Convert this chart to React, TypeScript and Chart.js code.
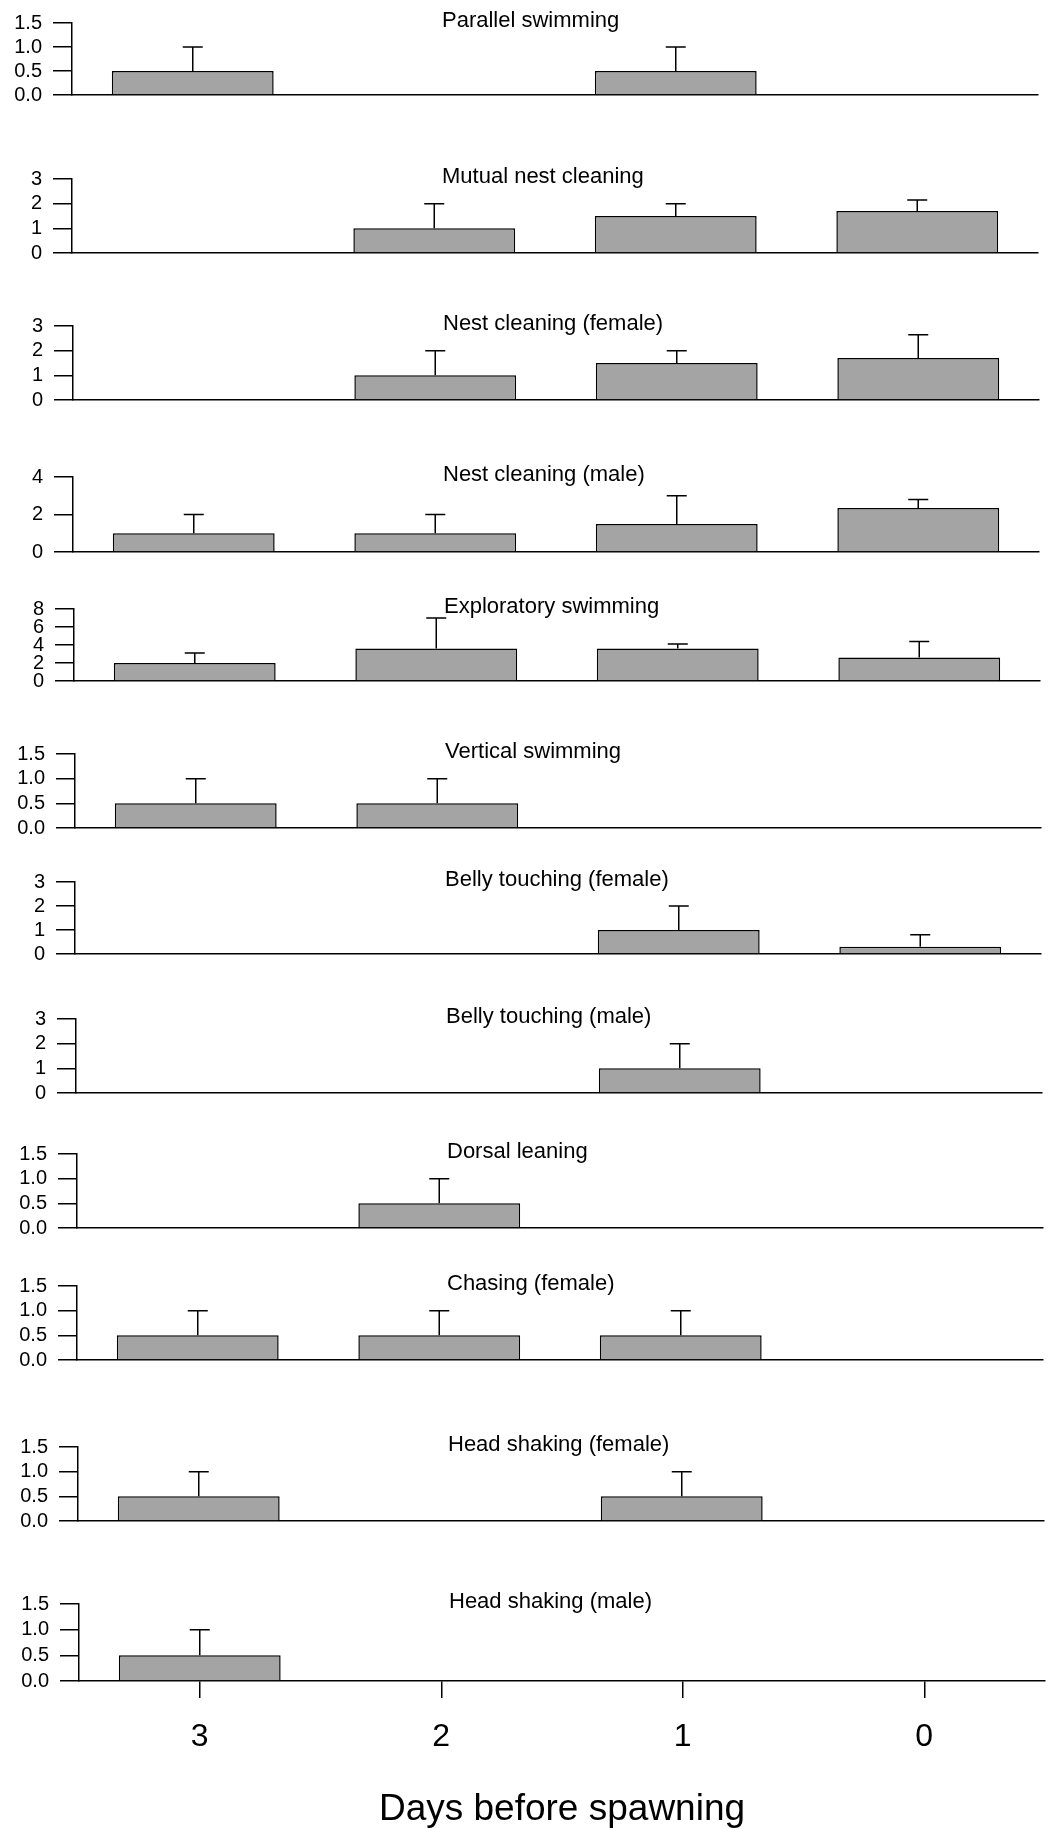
import React, { useEffect, useRef } from 'react';
import { Chart, registerables } from 'chart.js';

Chart.register(...registerables);

// ---------- data ----------
const days = ['3', '2', '1', '0'];
const xAxisTitle = 'Days before spawning';

const panelTitles = [
  'Parallel swimming',
  'Mutual nest cleaning',
  'Nest cleaning (female)',
  'Nest cleaning (male)',
  'Exploratory swimming',
  'Vertical swimming',
  'Belly touching (female)',
  'Belly touching (male)',
  'Dorsal leaning',
  'Chasing (female)',
  'Head shaking (female)',
  'Head shaking (male)',
];

const parallelSwimming = [0.5, 0, 0.5, 0];
const parallelSwimmingSE = [0.5, 0, 0.5, 0];
const mutualNestCleaning = [0, 1.0, 1.5, 1.7];
const mutualNestCleaningSE = [0, 1.0, 0.5, 0.45];
const nestCleaningFemale = [0, 1.0, 1.5, 1.7];
const nestCleaningFemaleSE = [0, 1.0, 0.5, 0.95];
const nestCleaningMale = [1.0, 1.0, 1.5, 2.35];
const nestCleaningMaleSE = [1.0, 1.0, 1.5, 0.45];
const exploratorySwimming = [2.0, 3.6, 3.6, 2.6];
const exploratorySwimmingSE = [1.1, 3.4, 0.5, 1.8];
const verticalSwimming = [0.5, 0.5, 0, 0];
const verticalSwimmingSE = [0.5, 0.5, 0, 0];
const bellyTouchingFemale = [0, 0, 1.0, 0.3];
const bellyTouchingFemaleSE = [0, 0, 1.0, 0.5];
const bellyTouchingMale = [0, 0, 1.0, 0];
const bellyTouchingMaleSE = [0, 0, 1.0, 0];
const dorsalLeaning = [0, 0.5, 0, 0];
const dorsalLeaningSE = [0, 0.5, 0, 0];
const chasingFemale = [0.5, 0.5, 0.5, 0];
const chasingFemaleSE = [0.5, 0.5, 0.5, 0];
const headShakingFemale = [0.5, 0, 0.5, 0];
const headShakingFemaleSE = [0.5, 0, 0.5, 0];
const headShakingMale = [0.5, 0, 0, 0];
const headShakingMaleSE = [0.5, 0, 0, 0];

const panelValues = [
  parallelSwimming, mutualNestCleaning, nestCleaningFemale, nestCleaningMale,
  exploratorySwimming, verticalSwimming, bellyTouchingFemale, bellyTouchingMale,
  dorsalLeaning, chasingFemale, headShakingFemale, headShakingMale,
];
const panelErrors = [
  parallelSwimmingSE, mutualNestCleaningSE, nestCleaningFemaleSE, nestCleaningMaleSE,
  exploratorySwimmingSE, verticalSwimmingSE, bellyTouchingFemaleSE, bellyTouchingMaleSE,
  dorsalLeaningSE, chasingFemaleSE, headShakingFemaleSE, headShakingMaleSE,
];

// y tick settings (max, step, decimals)
const yMax = [1.5, 3, 3, 4, 8, 1.5, 3, 3, 1.5, 1.5, 1.5, 1.5];
const yStep = [0.5, 1, 1, 2, 2, 0.5, 1, 1, 0.5, 0.5, 0.5, 0.5];
const yDecimals = [1, 0, 0, 0, 0, 1, 0, 0, 1, 1, 1, 1];

// ---------- layout ----------
const PAGE_W = 1053;
const PAGE_H = 1828;
const PANEL_TOPS = [23, 179, 326, 477, 609, 754, 882, 1019, 1154, 1286, 1447, 1604];
const PANEL_BOTTOMS = [98, 256, 403, 555, 684, 831, 957, 1096, 1231, 1363, 1524, 1681];
const PANEL_LEFTS = [72, 72, 73, 73, 74, 75, 75, 76, 77, 77, 78, 79];
const PLOT_W = 966;
const PAD_TOP = 32;
const PAD_BOTTOM = 20;
const FONT = '"Liberation Sans", Arial, Helvetica, sans-serif';
const BAR_FILL = '#a4a4a4';

function Panel({ index }: { index: number }) {
  const ref = useRef<HTMLCanvasElement | null>(null);
  const isLast = index === panelTitles.length - 1;
  const top = PANEL_TOPS[index] - PAD_TOP;
  const plotH = PANEL_BOTTOMS[index] - PANEL_TOPS[index];
  const height = isLast ? PAGE_H - top : plotH + PAD_TOP + PAD_BOTTOM;
  const left = PANEL_LEFTS[index];
  const xHeight = height - PAD_TOP - plotH;

  useEffect(() => {
    if (!ref.current) return;
    const values = panelValues[index];
    const errs = panelErrors[index];
    const title = panelTitles[index];

    const errorBars = {
      id: 'errorBars' + index,
      afterDatasetsDraw(chart: any) {
        const { ctx } = chart;
        const xs = chart.scales.x;
        const ys = chart.scales.y;
        ctx.save();
        ctx.strokeStyle = '#000';
        ctx.lineWidth = 1.5;
        values.forEach((v: number, i: number) => {
          const e = errs[i];
          if (!e) return;
          const x = xs.getPixelForValue(i);
          const y0 = ys.getPixelForValue(v);
          const y1 = ys.getPixelForValue(v + e);
          ctx.beginPath();
          ctx.moveTo(x, y0);
          ctx.lineTo(x, y1);
          ctx.moveTo(x - 10, y1);
          ctx.lineTo(x + 10, y1);
          ctx.stroke();
        });
        ctx.restore();
      },
    };

    const panelTitle = {
      id: 'panelTitle' + index,
      afterDraw(chart: any) {
        const { ctx, chartArea } = chart;
        ctx.save();
        ctx.fillStyle = '#000';
        ctx.font = `22px ${FONT}`;
        ctx.textAlign = 'left';
        ctx.textBaseline = 'middle';
        ctx.fillText(title, chartArea.left + 370, chartArea.top - 2);
        ctx.restore();
      },
    };

    const chart = new Chart(ref.current, {
      type: 'bar',
      data: {
        labels: days,
        datasets: [
          {
            data: values,
            backgroundColor: BAR_FILL,
            borderColor: '#000',
            borderWidth: 1.5,
            barPercentage: 0.67,
            categoryPercentage: 1,
          },
        ],
      },
      options: {
        animation: false,
        responsive: false,
        devicePixelRatio: 1,
        layout: { padding: { top: PAD_TOP, left: 0, right: PAGE_W - left - PLOT_W, bottom: 0 } },
        plugins: {
          legend: { display: false },
          tooltip: { enabled: false },
          title: { display: false },
        },
        scales: {
          x: {
            type: 'category',
            offset: true,
            grid: {
              display: isLast,
              drawOnChartArea: false,
              drawTicks: true,
              tickLength: 17,
              offset: false,
              color: '#000',
              lineWidth: 1.5,
            },
            border: { display: true, color: '#000', width: 1.5 },
            ticks: {
              display: isLast,
              autoSkip: false,
              maxRotation: 0,
              padding: 20,
              color: '#000',
              font: { family: FONT, size: 32 },
            },
            title: {
              display: isLast,
              text: xAxisTitle,
              color: '#000',
              font: { family: FONT, size: 37, lineHeight: 1 },
              padding: { top: 0, bottom: 0 },
            },
            afterFit: (s: any) => {
              s.height = xHeight;
            },
          },
          y: {
            min: 0,
            max: yMax[index],
            ticks: {
              stepSize: yStep[index],
              autoSkip: false,
              padding: 11,
              color: '#000',
              font: { family: FONT, size: 20 },
              callback: (v: any) => Number(v).toFixed(yDecimals[index]),
            },
            grid: {
              drawOnChartArea: false,
              drawTicks: true,
              tickLength: 19,
              color: '#000',
              lineWidth: 1.5,
            },
            border: { display: true, color: '#000', width: 1.5 },
            afterFit: (s: any) => {
              s.width = left;
            },
          },
        },
      } as any,
      plugins: [errorBars, panelTitle],
    });
    return () => chart.destroy();
  }, [index]);

  return (
    <canvas
      ref={ref}
      width={PAGE_W}
      height={height}
      style={{ position: 'absolute', left: 0, top, width: PAGE_W, height, display: 'block' }}
    />
  );
}

export default function App() {
  return (
    <div
      style={{
        position: 'absolute',
        left: 0,
        top: 0,
        width: PAGE_W,
        height: PAGE_H,
        background: '#fff',
        overflow: 'hidden',
      }}
    >
      {panelTitles.map((_, i) => (
        <Panel key={i} index={i} />
      ))}
    </div>
  );
}
